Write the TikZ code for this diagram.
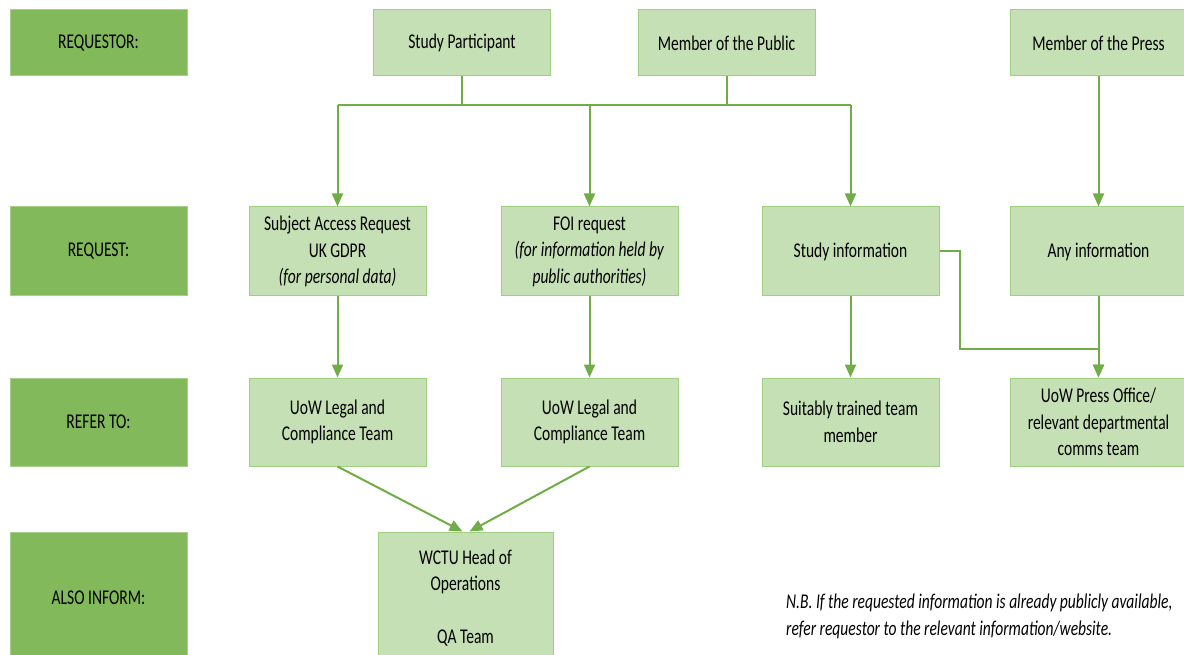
\documentclass[tikz,border=0pt]{standalone}
\usepackage{fontspec}
\setmainfont[FakeStretch=0.74]{Carlito}
\usetikzlibrary{arrows.meta,calc}
\definecolor{dk}{HTML}{82BA5B}
\definecolor{dkbd}{HTML}{A6D08A}
\definecolor{lt}{HTML}{C5E0B4}
\definecolor{ltbd}{HTML}{9FCF80}
\definecolor{ln}{HTML}{70AD47}
\begin{document}
\begin{tikzpicture}[x=1pt,y=-1pt,
  every node/.style={font=\fontsize{21}{26.5}\selectfont, text=black, align=center, inner sep=0pt},
  lab/.style={fill=dk, draw=dkbd, line width=1pt, minimum width=177pt},
  lbox/.style={fill=lt, draw=ltbd, line width=1pt, minimum width=177pt},
  conn/.style={draw=ln, line width=2pt},
  arr/.style={conn, -{Triangle[length=13pt,width=11pt]}}
]
\useasboundingbox (0,0) rectangle (1184,655);
\clip (0,0) rectangle (1184,655);
% row labels
\node[lab, minimum height=66pt] (lreq) at (98.5,43) {REQUESTOR:};
\node[lab, minimum height=89pt] (lrqt) at (98.5,251.5) {REQUEST:};
\node[lab, minimum height=88pt] (lref) at (98.5,422) {REFER TO:};
\node[lab, minimum height=132pt] (linf) at (98.5,598) {ALSO INFORM:};
% requestors
\node[lbox, minimum height=66pt] (sp) at (462,43) {Study Participant};
\node[lbox, minimum height=66pt] (mp) at (726.5,43) {Member of the Public};
\node[lbox, minimum height=66pt] (mpr) at (1098.5,43) {Member of the Press};
% requests
\node[lbox, minimum height=89pt] (sar) at (337.5,251.5) {Subject Access Request\\UK GDPR\\\textit{(for personal data)}};
\node[lbox, minimum height=89pt] (foi) at (589.5,251.5) {FOI request\\\textit{(for information held by}\\\textit{public authorities)}};
\node[lbox, minimum height=89pt] (si) at (850.5,251.5) {Study information};
\node[lbox, minimum height=89pt] (ai) at (1098.5,251.5) {Any information};
% refer to
\node[lbox, minimum height=88pt] (lc1) at (337.5,422) {UoW Legal and\\Compliance Team};
\node[lbox, minimum height=88pt] (lc2) at (589.5,422) {UoW Legal and\\Compliance Team};
\node[lbox, minimum height=88pt] (st) at (850.5,422) {Suitably trained team\\member};
\node[lbox, minimum height=88pt] (po) at (1098.5,422) {UoW Press Office/\\relevant departmental\\comms team};
% inform
\node[lbox, minimum height=132pt, minimum width=175pt] (wc) at (465.5,598) {WCTU Head of\\Operations\\\strut\\QA Team};
% note
\node[anchor=base west, align=left, font=\itshape\fontsize{21}{26.5}\selectfont] (nb) at (786,635) {N.B. If the requested information is already publicly available,\\refer requestor to the relevant information/website.};
% connectors
\coordinate (bus) at (0,105);
\draw[conn] (sp.south) -- (sp.south |- bus);
\draw[conn] (mp.south) -- (mp.south |- bus);
\draw[conn] (sar.north |- bus) -- (si.north |- bus);
\draw[arr] (sar.north |- bus) -- (sar.north);
\draw[arr] (foi.north |- bus) -- (foi.north);
\draw[arr] (si.north |- bus) -- (si.north);
\draw[arr] (mpr.south) -- (ai.north);
\draw[arr] (sar.south) -- (lc1.north);
\draw[arr] (foi.south) -- (lc2.north);
\draw[arr] (si.south) -- (st.north);
\draw[arr] (ai.south) -- (po.north);
\coordinate (elb) at (960,349);
\draw[arr] (si.east) -| (elb) -| (po.north);
\draw[arr] (lc1.south) -- ($(wc.north)+(-3,0)$);
\draw[arr] (lc2.south) -- ($(wc.north)+(4,0)$);
\end{tikzpicture}
\end{document}
